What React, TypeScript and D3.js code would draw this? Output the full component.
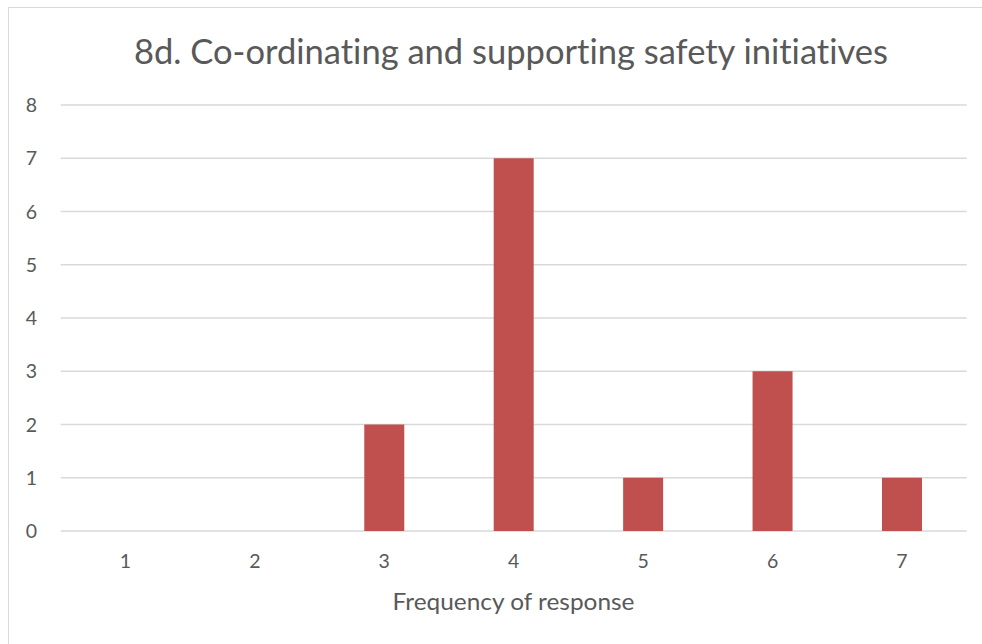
import React from "react";
import * as d3 from "d3";

const title = "8d. Co-ordinating and supporting safety initiatives";
const xAxisTitle = "Frequency of response";
const categories = ["1", "2", "3", "4", "5", "6", "7"];
const values = [0, 0, 2, 7, 1, 3, 1];
const yTicks = [0, 1, 2, 3, 4, 5, 6, 7, 8];

export default function App() {
  const W = 982, H = 644;
  const plotLeft = 60.7, plotRight = 966.7, plotTop = 105, plotBottom = 531;
  const x = d3.scaleBand<string>().domain(categories).range([plotLeft, plotRight]).paddingInner(0).paddingOuter(0);
  const y = d3.scaleLinear().domain([0, 8]).range([plotBottom, plotTop]);
  const barW = 40;
  const font = "Lato, 'Open Sans', sans-serif";
  const textColor = "#595959";
  const noLig = { fontVariantLigatures: "none", fontFeatureSettings: '"liga" 0, "clig" 0, "dlig" 0' } as React.CSSProperties;
  return (
    <svg width={W} height={H} style={{ position: "absolute", left: 0, top: 0, background: "#fff" }}>
      <rect x={8.5} y={7.5} width={W + 10} height={H + 10} fill="#fff" stroke="#D9D9D9" strokeWidth={1} />
      <text x={511} y={64} textAnchor="middle" fontFamily={font} fontSize={34} fill={textColor} style={noLig}
        textLength={754} lengthAdjust="spacingAndGlyphs">{title}</text>
      {yTicks.map((t) => (
        <g key={t}>
          <line x1={plotLeft} x2={plotRight} y1={y(t)} y2={y(t)} stroke="#D9D9D9" strokeWidth={1.3} />
          <text x={31.5} y={y(t) + 7} textAnchor="middle" fontFamily={font} fontSize={19.5} fill={textColor}>{t}</text>
        </g>
      ))}
      {categories.map((c, i) => (
        <g key={c}>
          {values[i] > 0 && (
            <rect x={x(c)! + x.bandwidth() / 2 - barW / 2} y={y(values[i])} width={barW}
              height={y(0) - y(values[i])} fill="#C0504D" />
          )}
          <text x={x(c)! + x.bandwidth() / 2} y={568} textAnchor="middle" fontFamily={font} fontSize={19.5} fill={textColor}>{c}</text>
        </g>
      ))}
      <text x={513.5} y={610} textAnchor="middle" fontFamily={font} fontSize={24} fill={textColor} style={noLig}
        textLength={242} lengthAdjust="spacingAndGlyphs">{xAxisTitle}</text>
    </svg>
  );
}
